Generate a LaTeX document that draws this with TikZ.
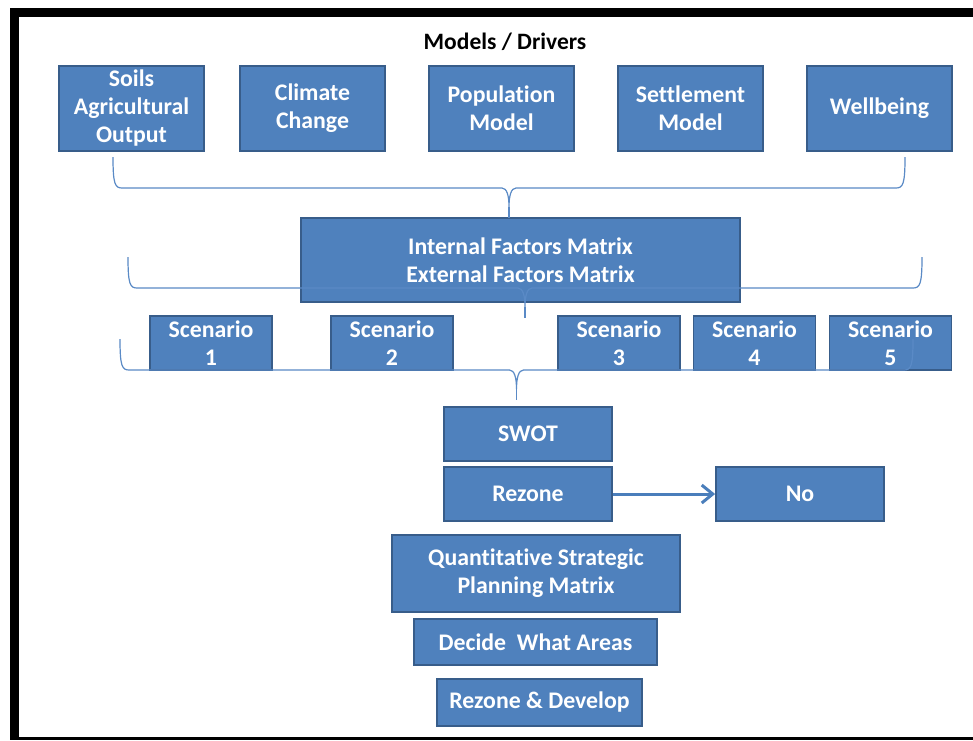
\documentclass[tikz,border=0pt]{standalone}
\usepackage{fontspec}
\setmainfont{Carlito}[Ligatures=NoCommon]
\usetikzlibrary{arrows.meta}
\definecolor{boxblue}{HTML}{4F81BD}
\definecolor{boxedge}{HTML}{385D8A}
\definecolor{curlyblue}{HTML}{5A8AC6}
\definecolor{arrowblue}{HTML}{4A7EBB}
\tikzset{
  box/.style={draw=boxedge, line width=1.8pt, fill=boxblue, text=white,
    font=\bfseries\fontsize{23.8}{28}\selectfont, align=center, inner sep=0pt},
  scen/.style={box, minimum width=122pt, minimum height=54pt},
  curly/.style={draw=curlyblue, line width=1.2pt},
  arrowline/.style={draw=arrowblue, line width=3pt, -{Straight Barb[length=11pt,width=18pt]}},
}
\begin{document}
\begin{tikzpicture}[x=1pt,y=-1pt]
\path[use as bounding box, fill=white] (0,0) rectangle (973,740);
\fill[black] (10,8) rectangle (973,17);
\fill[black] (10,8) rectangle (19,740);
\fill[black] (10,737) rectangle (973,740);

\node[font=\bfseries\fontsize{23.5}{28}\selectfont] (title) at (505,42) {Models / Drivers};

\node[box, minimum width=145pt, minimum height=85pt] (soils) at (131.5,108.5) {Soils\\Agricultural\\Output};
\node[box, minimum width=145pt, minimum height=85pt] (climate) at (312.5,108.5) {Climate\\Change};
\node[box, minimum width=145pt, minimum height=85pt] (population) at (501.5,108.5) {Population\\Model};
\node[box, minimum width=145pt, minimum height=85pt] (settlement) at (690.5,108.5) {Settlement\\Model};
\node[box, minimum width=145pt, minimum height=85pt] (wellbeing) at (879.5,108.5) {Wellbeing};

\node[box, minimum width=439pt, minimum height=84pt] (matrix) at (520.5,260) {Internal Factors Matrix\\External Factors Matrix};

\foreach \x/\n in {211/1,392/2,619/3,754.5/4,890.5/5}
\node[scen] (scenario\n) at (\x,343) {Scenario\\\n};

\node[box, minimum width=168pt, minimum height=54pt] (swot) at (528,434) {SWOT};
\node[box, minimum width=168pt, minimum height=54pt] (rezone) at (528,494) {Rezone};
\node[box, minimum width=168pt, minimum height=54pt] (no) at (800,494) {No};
\node[box, minimum width=288pt, minimum height=77pt] (qspm) at (536,573.5) {Quantitative Strategic\\Planning Matrix};
\node[box, minimum width=243pt, minimum height=46pt] (decide) at (535.5,642) {Decide~~What Areas};
\node[box, minimum width=205pt, minimum height=47pt] (develop) at (539.5,702.5) {Rezone \& Develop};

\foreach \l/\r/\t/\m in {113/905/157/509,128/922/257/525,120/913/339/516.5}{
\draw[curly] (\l,\t) .. controls (\l,\t+27) and (\l+2,\t+31) .. (\l+9,\t+31)
  -- (\m-7,\t+31) .. controls (\m-2,\t+31) and (\m,\t+39) .. (\m,\t+50)
  .. controls (\m,\t+39) and (\m+2,\t+31) .. (\m+7,\t+31)
  -- (\r-9,\t+31) .. controls (\r-2,\t+31) and (\r,\t+27) .. (\r,\t);
\draw[curly] (\m,\t+50) -- (\m,\t+61);
}

\draw[arrowline] (rezone) -- (no);
\end{tikzpicture}
\end{document}
